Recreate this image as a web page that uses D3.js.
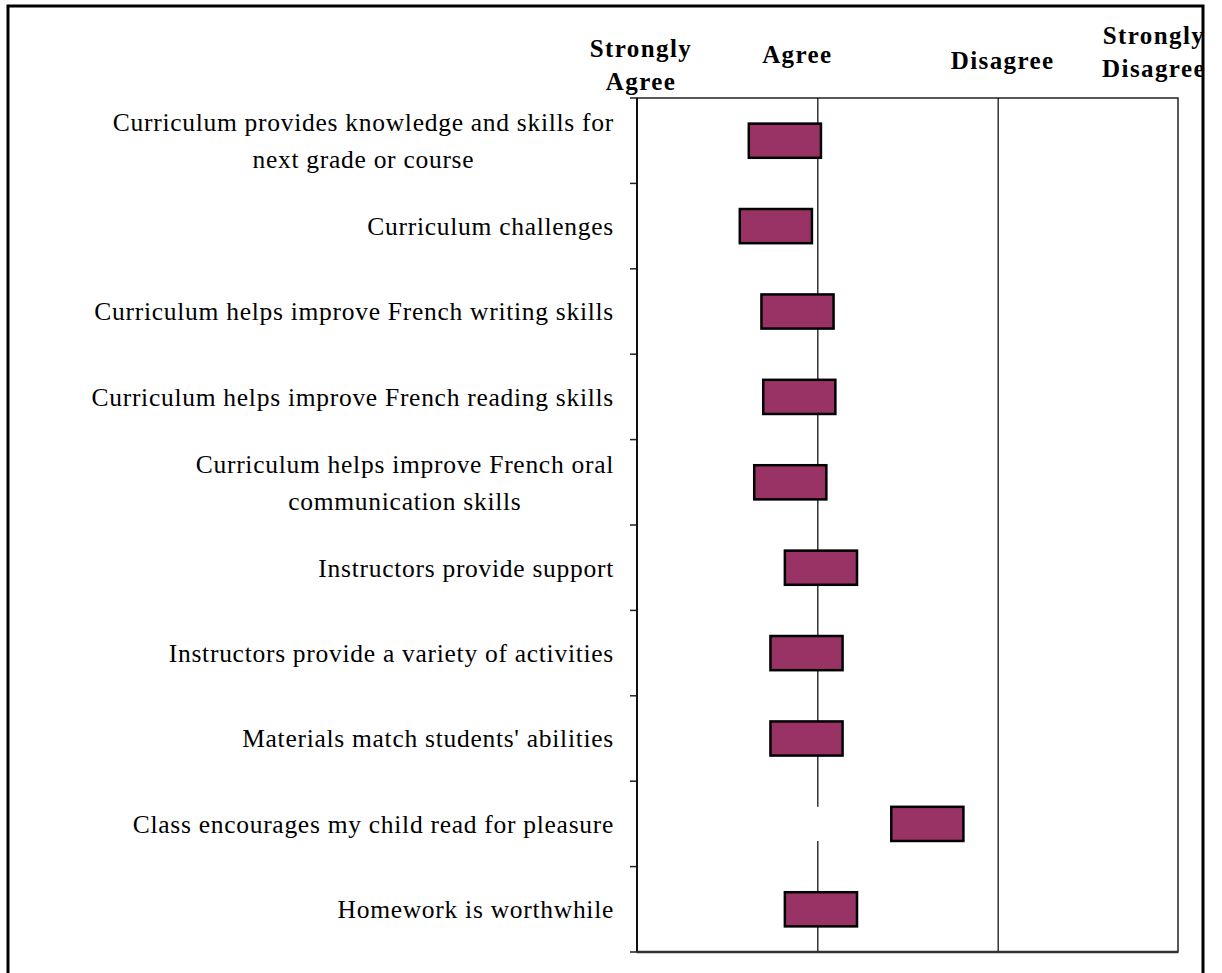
<!DOCTYPE html>
<html>
<head>
<meta charset="utf-8">
<script src="https://cdn.jsdelivr.net/npm/d3@7"></script>
<style>
  html, body { margin: 0; padding: 0; background: #fff; }
  svg { display: block; }
</style>
</head>
<body>
<div id="chart"></div>
<script>
const categories = [
  "Curriculum provides knowledge and skills for|next grade or course",
  "Curriculum challenges",
  "Curriculum helps improve French writing skills",
  "Curriculum helps improve French reading skills",
  "Curriculum helps improve French oral|communication skills",
  "Instructors provide support",
  "Instructors provide a variety of activities",
  "Materials match students' abilities",
  "Class encourages my child read for pleasure",
  "Homework is worthwhile"
];

// bar start / end on the 1-4 agreement scale
const barStart = [1.62, 1.57, 1.69, 1.70, 1.65, 1.82, 1.74, 1.74, 2.41, 1.82];
const barEnd = [2.02, 1.97, 2.09, 2.10, 2.05, 2.22, 2.14, 2.14, 2.81, 2.22];

const scaleLabels = ["Strongly|Agree", "Agree", "Disagree", "Strongly|Disagree"];
const scaleValues = [1, 2, 3, 4];

const drawChart = () => {
  const width = 1222, height = 973;
  const plot = {left: 637, right: 1178, top: 98, bottom: 952};
  const serif = "'Liberation Serif', 'Times New Roman', Times, serif";

  const svg = d3.select("#chart").append("svg")
    .attr("width", width)
    .attr("height", height);

  svg.append("rect")
    .attr("x", 8)
    .attr("y", 6)
    .attr("width", 1195)
    .attr("height", 1000)
    .attr("fill", "#fff")
    .attr("stroke", "#000")
    .attr("stroke-width", 3);

  const xScale = d3.scaleLinear()
    .domain([1, 4])
    .range([plot.left, plot.right]);

  const yScale = d3.scaleBand()
    .domain(categories)
    .range([plot.top, plot.bottom])
    .paddingInner(0.6)
    .paddingOuter(0.3);

  // plot frame
  svg.append("rect")
    .attr("x", plot.left)
    .attr("y", plot.top)
    .attr("width", plot.right - plot.left)
    .attr("height", plot.bottom - plot.top)
    .attr("fill", "none")
    .attr("stroke", "#222")
    .attr("stroke-width", 1.5);

  // vertical gridlines
  const xAxisCall = d3.axisBottom(xScale)
    .tickValues([2, 3])
    .tickSize(-(plot.bottom - plot.top))
    .tickFormat("");
  const xAxis = svg.append("g")
    .attr("transform", `translate(0, ${plot.bottom})`)
    .call(xAxisCall);
  xAxis.select(".domain").remove();
  xAxis.selectAll("line").attr("stroke", "#000").attr("stroke-width", 1.2);

  const rows = svg.append("g").selectAll("g")
    .data(categories.map((c, i) => ({cat: c, start: barStart[i], end: barEnd[i]})))
    .join("g");

  // white filler segment (hides gridline where it crosses)
  rows.append("rect")
    .attr("x", xScale(1) + 1)
    .attr("y", d => yScale(d.cat))
    .attr("width", d => xScale(d.start) - xScale(1) - 2)
    .attr("height", yScale.bandwidth())
    .attr("fill", "#fff");

  rows.append("rect")
    .attr("x", d => xScale(d.start))
    .attr("y", d => yScale(d.cat))
    .attr("width", d => xScale(d.end) - xScale(d.start))
    .attr("height", yScale.bandwidth())
    .attr("fill", "#993366")
    .attr("stroke", "#000")
    .attr("stroke-width", 2.5);

  // left axis with ticks between categories
  const step = yScale.step();
  const tickYs = d3.range(categories.length + 1).map(k => plot.top + k * step);
  svg.append("g").selectAll("line")
    .data(tickYs)
    .join("line")
    .attr("x1", plot.left - 7)
    .attr("x2", plot.left)
    .attr("y1", d => d)
    .attr("y2", d => d)
    .attr("stroke", "#222")
    .attr("stroke-width", 1.5);

  svg.append("line")
    .attr("x1", plot.left).attr("x2", plot.left)
    .attr("y1", plot.top).attr("y2", plot.bottom)
    .attr("stroke", "#111").attr("stroke-width", 2);
  svg.append("line")
    .attr("x1", plot.left).attr("x2", plot.right)
    .attr("y1", plot.bottom).attr("y2", plot.bottom)
    .attr("stroke", "#333").attr("stroke-width", 2.5);

  // category labels: block right aligned, lines centred in block
  const labelRight = 614;
  const lineHeight = 37;
  categories.forEach(c => {
    const lines = c.split("|");
    const g = svg.append("g");
    const cy = yScale(c) + yScale.bandwidth() / 2;
    const texts = lines.map((ln, j) => g.append("text")
      .attr("y", cy + (j - (lines.length - 1) / 2) * lineHeight)
      .attr("dy", "0.35em")
      .attr("text-anchor", "middle")
      .style("font-family", serif)
      .style("font-size", "25.5px")
      .style("letter-spacing", "0.72px")
      .attr("fill", "#000")
      .text(ln));
    const widths = texts.map(t => t.node().getComputedTextLength());
    const blockW = d3.max(widths);
    texts.forEach(t => t.attr("x", labelRight - blockW / 2));
  });

  // scale headings
  const headPos = [
    {dx: 4, y: 48},
    {dx: -20, y: 54},
    {dx: 5, y: 60},
    {dx: -24, y: 35}
  ];
  scaleLabels.forEach((lab, i) => {
    const lines = lab.split("|");
    lines.forEach((ln, j) => {
      svg.append("text")
        .attr("x", xScale(scaleValues[i]) + headPos[i].dx)
        .attr("y", headPos[i].y + j * 33)
        .attr("dy", "0.35em")
        .attr("text-anchor", "middle")
        .style("font-family", serif)
        .style("font-weight", "bold")
        .style("font-size", "25px")
        .style("letter-spacing", "1.4px")
        .attr("fill", "#000")
        .text(ln);
    });
  });
}

drawChart();
</script>
</body>
</html>
